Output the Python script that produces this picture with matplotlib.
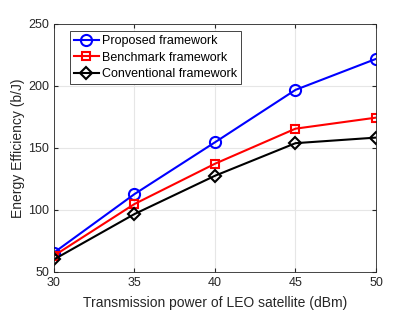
import matplotlib
matplotlib.use("Agg")
import matplotlib.pyplot as plt

power = [30, 35, 40, 45, 50]
proposed = [65.5, 112.7, 154.5, 196.8, 221.8]
benchmark = [63.0, 104.7, 137.2, 165.5, 174.4]
conventional = [60.0, 96.6, 127.5, 153.8, 158.3]

plt.rcParams['font.family'] = ['Liberation Sans', 'DejaVu Sans']

fig = plt.figure(figsize=(4.15, 3.11), dpi=100)
ax = fig.add_axes([0.130, 0.126, 0.776, 0.797])

ax.plot(power, proposed, '-o', color='blue', lw=1.5, ms=8, mfc='none', mew=1.5, label='Proposed framework')
ax.plot(power, benchmark, '-s', color='red', lw=1.5, ms=5.5, mfc='none', mew=1.5, label='Benchmark framework')
ax.plot(power, conventional, '-D', color='black', lw=1.5, ms=6, mfc='none', mew=1.5, label='Conventional framework')

ax.set_xlim(30, 50)
ax.set_ylim(50, 250)
ax.set_xticks(power)
ax.set_yticks([50, 100, 150, 200, 250])
ax.grid(True, color='#e6e6e6', lw=0.8)
ax.set_axisbelow(True)
ax.tick_params(direction='in', length=3, labelsize=9, colors='#262626', top=True, right=True)
for s in ax.spines.values():
    s.set_color('#262626')
    s.set_linewidth(0.6)

ax.set_xlabel('Transmission power of LEO satellite (dBm)', fontsize=10, color='#262626', labelpad=5)
ax.set_ylabel('Energy Efficiency (b/J)', fontsize=10, color='#262626', labelpad=2)

leg = ax.legend(loc='upper left', fontsize=9, fancybox=False, framealpha=1, edgecolor='#262626',
                borderpad=0.3, labelspacing=0.35, handlelength=2.0, handletextpad=0.3,
                bbox_to_anchor=(0.03, 0.995))
leg.get_frame().set_linewidth(0.6)

fig.savefig('out.png', dpi=100)
